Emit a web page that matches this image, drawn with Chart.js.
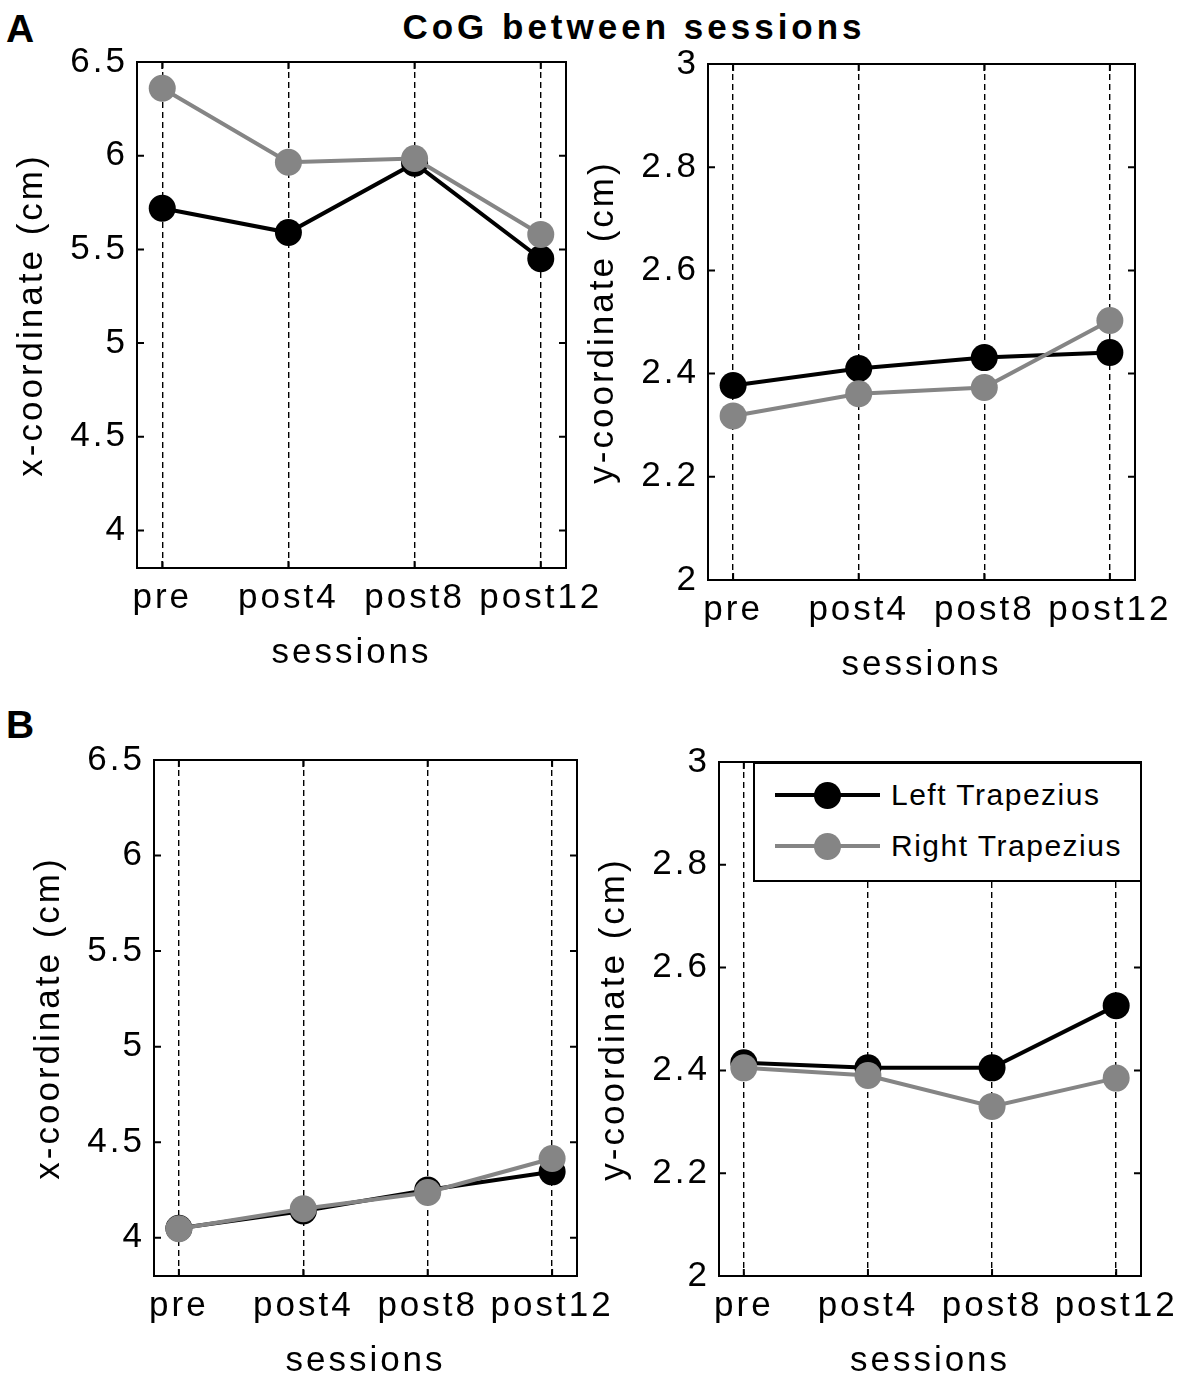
<!DOCTYPE html>
<html>
<head>
<meta charset="utf-8">
<script src="https://cdn.jsdelivr.net/npm/chart.js@4.4.1/dist/chart.umd.min.js"></script>
<style>
  body { margin: 0; background: #fff; overflow: hidden; font-family: 'Liberation Sans', Arial, sans-serif; }
  #page { position: relative; width: 1181px; height: 1378px; overflow: hidden; }
  canvas { position: absolute; }
  .txt { position: absolute; color: #000; white-space: nowrap; line-height: 1; }
  .title { font-weight: bold; font-size: 35px; letter-spacing: 4px; left: 0; width: 1268px; text-align: center; top: 9px; }
  .letter { font-weight: bold; font-size: 39px; left: 6px; }
  #legend { position: absolute; box-sizing: border-box; background: #fff; border: 2px solid #000; z-index: 5; }
  #legend .row { position: absolute; left: 0; width: 100%; height: 0; }
  #legend .ln { position: absolute; left: 20px; width: 105px; height: 4px; top: -2px; }
  #legend .dot { position: absolute; left: 59px; width: 27px; height: 27px; top: -13.5px; border-radius: 50%; }
  #legend .lab { position: absolute; left: 136px; top: -15px; font-size: 30px; line-height: 30px; letter-spacing: 1.5px; }
</style>
</head>
<body>
<div id="page">
  <div class="txt title">CoG between sessions</div>
  <div class="txt letter" style="top:9px">A</div>
  <div class="txt letter" style="top:705px">B</div>
  <div id="legend"></div>
</div>
<script>
// sessions on the x axis
const sessions = ['pre', 'post4', 'post8', 'post12'];
const seriesNames = ['Left Trapezius', 'Right Trapezius'];
const seriesColors = ['#000000', '#858585'];

// panel A
const aXLeft = [5.72, 5.59, 5.96, 5.45];
const aXRight = [6.36, 5.965, 5.985, 5.58];
const aYLeft = [2.377, 2.41, 2.431, 2.441];
const aYRight = [2.318, 2.361, 2.373, 2.503];

// panel B
const bXLeft = [4.05, 4.14, 4.25, 4.345];
const bXRight = [4.047, 4.152, 4.237, 4.415];
const bYLeft = [2.415, 2.405, 2.405, 2.526];
const bYRight = [2.405, 2.39, 2.33, 2.385];

// tick labels
const xCoordTicks = [4, 4.5, 5, 5.5, 6, 6.5];
const yCoordTicks = [2, 2.2, 2.4, 2.6, 2.8, 3];

const FONT = "'Liberation Sans', Arial, sans-serif";
const LEFT_SPACE = 137, TOP_PAD = 22, RIGHT_PAD = 70, BOTTOM_SPACE = 123;

const panels = [
  { box: { l: 137, t: 62, r: 566, b: 568 }, data: [aXLeft, aXRight], ticks: xCoordTicks, min: 3.8, max: 6.5, ylabel: 'x-coordinate (cm)' },
  { box: { l: 708, t: 64, r: 1135, b: 580 }, data: [aYLeft, aYRight], ticks: yCoordTicks, min: 2, max: 3, ylabel: 'y-coordinate (cm)' },
  { box: { l: 154, t: 760, r: 577, b: 1276 }, data: [bXLeft, bXRight], ticks: xCoordTicks, min: 3.8, max: 6.5, ylabel: 'x-coordinate (cm)' },
  { box: { l: 719, t: 762, r: 1141, b: 1276 }, data: [bYLeft, bYRight], ticks: yCoordTicks, min: 2, max: 3, ylabel: 'y-coordinate (cm)' }
];

// box around the axes, inward ticks, matlab-like spacing of text
const framePlugin = {
  id: 'frame',
  beforeDraw(chart) {
    chart.ctx.letterSpacing = '3px';
  },
  afterDraw(chart) {
    const { ctx, chartArea: a, scales } = chart;
    ctx.save();
    ctx.strokeStyle = '#000';
    ctx.lineWidth = 2;
    ctx.setLineDash([]);
    ctx.strokeRect(a.left, a.top, a.right - a.left, a.bottom - a.top);
    ctx.beginPath();
    scales.y.ticks.forEach(t => {
      const py = scales.y.getPixelForValue(t.value);
      ctx.moveTo(a.left, py); ctx.lineTo(a.left + 7, py);
      ctx.moveTo(a.right, py); ctx.lineTo(a.right - 7, py);
    });
    scales.x.ticks.forEach(t => {
      const px = scales.x.getPixelForValue(t.value);
      ctx.moveTo(px, a.bottom); ctx.lineTo(px, a.bottom - 7);
      ctx.moveTo(px, a.top); ctx.lineTo(px, a.top + 7);
    });
    ctx.stroke();
    ctx.restore();
  }
};

function noPadding(s) {
  s.paddingLeft = 0;
  s.paddingRight = 0;
  s.paddingTop = 0;
  s.paddingBottom = 0;
}

const page = document.getElementById('page');

panels.forEach(p => {
  const cx = p.box.l - LEFT_SPACE;
  const cy = p.box.t - TOP_PAD;
  const cw = p.box.r + RIGHT_PAD - cx;
  const ch = p.box.b + BOTTOM_SPACE - cy;
  const canvas = document.createElement('canvas');
  canvas.width = cw;
  canvas.height = ch;
  canvas.style.left = cx + 'px';
  canvas.style.top = cy + 'px';
  page.appendChild(canvas);

  const datasets = p.data.map((vals, k) => ({
    label: seriesNames[k],
    data: vals.map((v, i) => ({ x: i + 1, y: v })),
    borderColor: seriesColors[k],
    backgroundColor: seriesColors[k],
    pointBackgroundColor: seriesColors[k],
    pointBorderColor: seriesColors[k],
    borderWidth: 4,
    pointRadius: 13.5,
    pointBorderWidth: 0,
    tension: 0,
    order: k === 0 ? 2 : 1
  }));

  new Chart(canvas, {
    type: 'line',
    data: { datasets },
    options: {
      responsive: false,
      animation: false,
      devicePixelRatio: 1,
      layout: { autoPadding: false, padding: { top: TOP_PAD, right: RIGHT_PAD, left: 0, bottom: 0 } },
      plugins: { legend: { display: false }, tooltip: { enabled: false } },
      scales: {
        x: {
          type: 'linear',
          min: 0.8,
          max: 4.2,
          afterBuildTicks: s => { s.ticks = sessions.map((_, i) => ({ value: i + 1 })); },
          afterFit: s => { s.height = BOTTOM_SPACE; noPadding(s); },
          ticks: {
            callback: v => sessions[Math.round(v) - 1],
            color: '#000',
            font: { family: FONT, size: 35 },
            padding: 9,
            maxRotation: 0,
            autoSkip: false
          },
          grid: { color: '#000', lineWidth: 1.4, drawTicks: false },
          border: { display: false, dash: [6, 4] },
          title: {
            display: true, text: 'sessions', color: '#000',
            font: { family: FONT, size: 35, lineHeight: 1 },
            padding: { top: 0, bottom: 20.5 }
          }
        },
        y: {
          min: p.min,
          max: p.max,
          afterBuildTicks: s => { s.ticks = p.ticks.map(v => ({ value: v })); },
          afterFit: s => { s.width = LEFT_SPACE; noPadding(s); },
          ticks: {
            callback: v => String(v),
            color: '#000',
            font: { family: FONT, size: 35 },
            padding: 9
          },
          grid: { display: false, drawTicks: false },
          border: { display: false },
          title: {
            display: true, text: p.ylabel, color: '#000',
            font: { family: FONT, size: 35, lineHeight: 1 },
            padding: { top: 14.5, bottom: 0 }
          }
        }
      }
    },
    plugins: [framePlugin]
  });
});

// legend box inside the lower right panel
const legend = document.getElementById('legend');
const lb = panels[3].box;
legend.style.left = '753px';
legend.style.top = lb.t + 'px';
legend.style.width = (lb.r - 753 + 1) + 'px';
legend.style.height = '120px';
seriesNames.forEach((name, k) => {
  const row = document.createElement('div');
  row.className = 'row';
  row.style.top = (31 + k * 51) + 'px';
  row.innerHTML = '<div class="ln" style="background:' + seriesColors[k] + '"></div>' +
    '<div class="dot" style="background:' + seriesColors[k] + '"></div>' +
    '<div class="lab">' + name + '</div>';
  legend.appendChild(row);
});
</script>
</body>
</html>
